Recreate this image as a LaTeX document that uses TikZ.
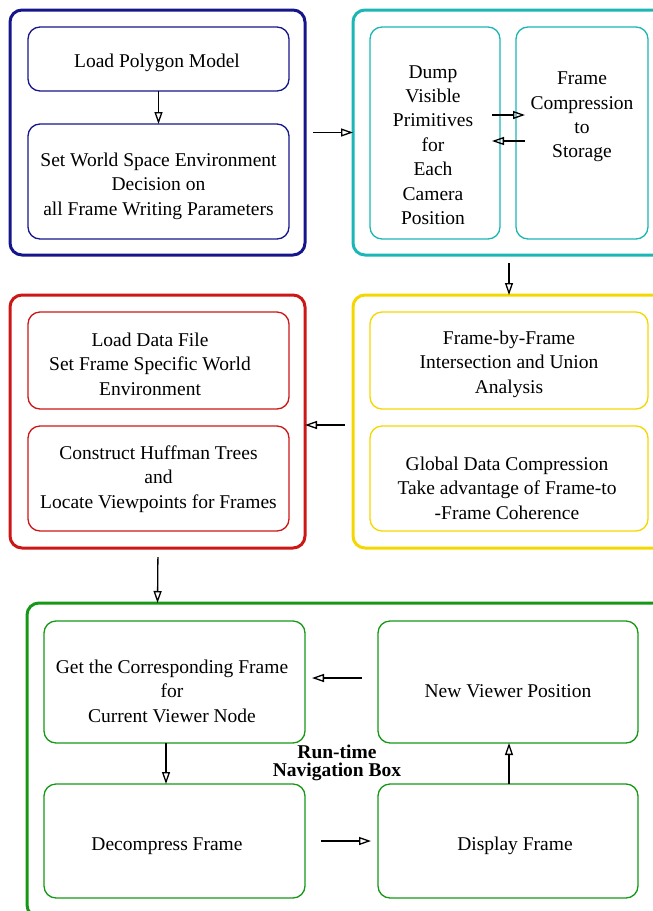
\documentclass[tikz,border=0pt]{standalone}
\usepackage{fontspec}
\setmainfont{Liberation Serif}
\usetikzlibrary{arrows.meta}
\definecolor{cblue}{RGB}{22,22,140}
\definecolor{cteal}{RGB}{28,182,182}
\definecolor{cred}{RGB}{205,22,22}
\definecolor{cyel}{RGB}{245,215,0}
\definecolor{cgreen}{RGB}{22,152,22}
\begin{document}
\begin{tikzpicture}[x=1pt,y=-1pt,
  outerbox/.style={draw=#1, line width=3pt, rounded corners=12pt, inner sep=0pt, outer sep=0pt},
  innerbox/.style={draw=#1, line width=1.3pt, rounded corners=12pt, inner sep=0pt, outer sep=0pt},
  txt/.style={align=center, inner sep=0pt, font=\fontsize{19.5pt}{24.4pt}\selectfont},
  arr/.style={-{Triangle[open, length=12pt, width=8pt]}, line width=1.3pt, black}]
\useasboundingbox (0,0) rectangle (653,911);
\clip (0,0) rectangle (653,911);
% outer boxes
\node[outerbox=cblue, minimum width=295pt, minimum height=245pt] (blue) at (157.5,132.5) {};
\node[outerbox=cteal, minimum width=314pt, minimum height=245pt] (teal) at (510,132.5) {};
\node[outerbox=cred, minimum width=295pt, minimum height=253pt] (red) at (157.5,421.5) {};
\node[outerbox=cyel, minimum width=314pt, minimum height=253pt] (yel) at (510,421.5) {};
\node[outerbox=cgreen, minimum width=640pt, minimum height=314pt] (green) at (347,760) {};
% inner boxes
\node[innerbox=cblue, minimum width=261pt, minimum height=64pt] (lpm) at (158.5,59) {};
\node[txt] (lpmt) at (157,63) {Load Polygon Model};
\node[innerbox=cblue, minimum width=261pt, minimum height=115pt] (sws) at (158.5,181.5) {};
\node[txt] (swst) at (158.5,186) {Set World Space Environment\\Decision on\\all Frame Writing Parameters};
\node[innerbox=cteal, minimum width=130pt, minimum height=212pt] (dump) at (435,133) {};
\node[txt] (dumpt) at (433,145) {Dump\\Visible\\Primitives\\for\\Each\\Camera\\Position};
\node[innerbox=cteal, minimum width=132pt, minimum height=212pt] (fc) at (582,133) {};
\node[txt] (fct) at (582,117) {Frame\\Compression\\to\\Storage};
\node[innerbox=cred, minimum width=261pt, minimum height=97pt] (ldf) at (158.5,360.5) {};
\node[txt] (ldft) at (150,364) {Load Data File\\Set Frame Specific World\\Environment};
\node[innerbox=cred, minimum width=261pt, minimum height=105pt] (cht) at (158.5,478.5) {};
\node[txt] (chtt) at (158.5,479) {Construct Huffman Trees\\and\\Locate Viewpoints for Frames};
\node[innerbox=cyel, minimum width=278pt, minimum height=97pt] (fbf) at (509,360.5) {};
\node[txt] (fbft) at (509,364) {Frame-by-Frame\\Intersection and Union\\Analysis};
\node[innerbox=cyel, minimum width=278pt, minimum height=105pt] (gdc) at (509,478.5) {};
\node[txt] (gdct) at (507,488) {Global Data Compression\\Take advantage of Frame-to\\-Frame Coherence};
\node[innerbox=cgreen, minimum width=261pt, minimum height=122pt] (get) at (174.5,682) {};
\node[txt] (gett) at (172,691) {Get the Corresponding Frame\\for\\Current Viewer Node};
\node[innerbox=cgreen, minimum width=260pt, minimum height=122pt] (nvp) at (508,682) {};
\node[txt] (nvpt) at (508,691) {New Viewer Position};
\node[innerbox=cgreen, minimum width=261pt, minimum height=114pt] (dec) at (174.5,841) {};
\node[txt] (dect) at (167,846) {Decompress Frame};
\node[innerbox=cgreen, minimum width=260pt, minimum height=114pt] (disp) at (508,841) {};
\node[txt] (dispt) at (515,846) {Display Frame};
\node[align=center, inner sep=0pt, font=\bfseries\fontsize{19.5pt}{17.5pt}\selectfont] (rtl) at (337,763) {Run-time\\Navigation Box};
% arrows
\draw[arr] (lpm.south) -- (sws.north);
\draw[arr, shorten <=8pt] (blue.east) -- (teal.west);
\draw[arr] ([xshift=-8pt,yshift=18pt]dump.east) -- ([xshift=9pt,yshift=18pt]fc.west);
\draw[arr] ([xshift=9pt,yshift=-8pt]fc.west) -- ([xshift=-8pt,yshift=-8pt]dump.east);
\draw[arr, shorten <=8pt] ([xshift=-1pt]teal.south) -- ([xshift=-1pt]yel.north);
\draw[arr, shorten <=8pt] ([yshift=-3.5pt]yel.west) -- ([yshift=-3.5pt]red.east);
\draw[arr, shorten <=9pt] ([xshift=0.5pt]red.south) -- (green.north -| red.south);
\draw[arr, shorten <=16pt, shorten >=7pt] ([yshift=4pt]nvp.west) -- ([yshift=4pt]get.east);
\draw[arr] ([xshift=-8.5pt]get.south) -- ([xshift=-8.5pt]dec.north);
\draw[arr, shorten <=16pt, shorten >=7pt] (dec.east) -- (disp.west);
\draw[arr] ([xshift=1pt]disp.north) -- ([xshift=1pt]nvp.south);
\end{tikzpicture}
\end{document}
